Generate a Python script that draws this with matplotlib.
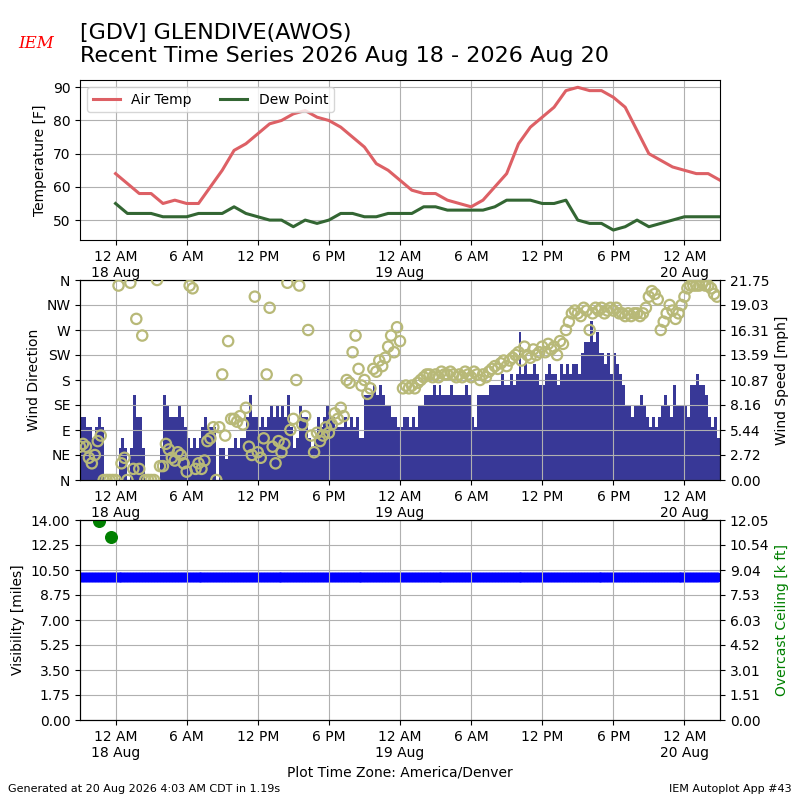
import matplotlib
matplotlib.use('Agg')
import matplotlib.pyplot as plt
import matplotlib.dates as mdates
from matplotlib.ticker import FuncFormatter
import numpy as np
import pandas as pd

# hourly temperature / dew point (F), local time
temp_start = '2026-08-18 00:00'
air_temp = [64, 61, 58, 58, 55, 56, 55, 55, 60, 65, 71, 73, 76, 79, 80, 82, 83, 81,
            80, 78, 75, 72, 67, 65, 62,
            59, 58, 58, 56, 55, 54, 56, 60, 64, 73, 78, 81, 84, 89, 90, 89, 89, 87,
            84, 77, 70, 68, 66, 65, 64, 64, 62]
dew_point = [55, 52, 52, 52, 51, 51, 51, 52, 52, 52, 54, 52, 51, 50, 50, 48, 50, 49,
             50, 52, 52, 51, 51, 52, 52,
             52, 54, 54, 53, 53, 53, 53, 54, 56, 56, 56, 55, 55, 56, 50, 49, 49, 47,
             48, 50, 48, 49, 50, 51, 51, 51, 51]

# 15 minute wind obs starting 17 Aug 21:00 (speed in knots, direction in deg)
wind_start = '2026-08-17 21:00'
wind_kt = [
    6, 6, 5, 5,  4, 5, 6, 5,  0, 0, 0, 0,  0, 3, 4, 3,  0, 3, 8, 6,  6, 3, 0, 0,
    0, 0, 0, 3,  8, 7, 6, 6,  6, 7, 6, 5,  4, 3, 4, 3,  4, 5, 6, 5,  5, 5, 0, 3,
    3, 2, 3, 3,  4, 3, 4, 4,  6, 8, 6, 6,  5, 6, 5, 6,  7, 6, 7, 6,  7, 6, 8, 5,
    3, 4, 7, 6,  6, 4, 3, 4,  6, 5, 6, 7,  6, 6, 5, 5,  5, 6, 5, 6,  5, 6, 4, 4,
    8, 8, 8, 9,  8, 9, 8, 7,  7, 6, 6, 5,
    5, 6, 6, 5,  6, 5, 7, 7,  8, 8, 8, 9,  8, 9, 8, 8,  8, 9, 8, 8,  8, 8, 9, 8,
    6, 5, 8, 8,  8, 8, 9, 9,  9, 9, 10, 9,  9, 10, 9, 10,  14, 10, 11, 10,
    10, 11, 10, 9,  9, 10, 11, 10,  10, 9, 11, 10,  11, 10, 11, 11,  10, 12, 13, 13,
    15, 13, 14, 12,  12, 11, 12, 10,  12, 11, 10, 9,  7, 7, 6, 7,  7, 8, 7, 6,
    5, 6, 5, 6,  7, 8, 7, 6,  9, 7, 7, 7,  7, 6, 9, 9,  10, 9, 9, 8,  6, 5, 6, 4,
]
wind_dir = [
    60, 65, 60, 40,  30, 45, 70, 80,  0, 0, 0, 0,  0, 350, 30, 40,  0, 355, 20, 290,
    20, 260, 0, 0,  0, 0, 360, 25,  25, 65, 55, 40,  35, 50, 45, 30,  15, 350, 345, 20,
    30, 20, 35, 70,  75, 95, 0, 95,  190, 80, 250, 110,  110, 105, 115, 100,
    130, 60, 45, 330,  50, 40, 75, 190,  310, 60, 30, 70,  50, 65, 355, 90,
    110, 180, 350, 100,  115, 270, 80, 50,  85, 70, 80, 95,  85, 100, 120, 110,
    130, 115, 180, 175,  230, 260, 200, 170,  180, 155, 165, 200,  195, 215, 205, 220,
    240, 260, 230, 275,
    250, 165, 170, 165,  170, 165, 175, 180,  185, 190, 190, 185,  190, 185, 195, 190,
    190, 195, 190, 185,  190, 185, 195, 190,  185, 195, 190, 180,  190, 185, 195, 200,
    205, 200, 210, 215,  205, 215, 220, 225,  230, 215, 240, 225,  220, 235, 225, 230,
    240, 230, 245, 235,  240, 225, 250, 245,  270, 285, 300, 305,  300, 295, 310, 305,
    270, 300, 310, 305,  310, 300, 305, 310,  305, 310, 300, 300,  295, 300, 295, 300,
    300, 295, 300, 310,  330, 340, 335, 325,  270, 285, 300, 315,  305, 290, 300, 315,
    330, 345, 350, 350,  350, 350, 355, 350,  350, 345, 335, 330,
]
gust_time = ['2026-08-19 10:00', '2026-08-19 15:40', '2026-08-19 15:55', '2026-08-19 18:00']
gust_kt = [16, 18, 18, 15]

# visibility (miles) every ob, ceiling (k ft)
vsby = [10.0] * len(wind_kt)
ceil_time = ['2026-08-17 22:35', '2026-08-17 23:35']
ceil_kft = [12.0, 11.0]

dir_labels = ['N', 'NE', 'E', 'SE', 'S', 'SW', 'W', 'NW', 'N']

temp_times = pd.date_range(temp_start, periods=len(air_temp), freq='h')
wind_times = pd.date_range(wind_start, periods=len(wind_kt), freq='15min')
wind_mph = np.array(wind_kt) * 1.15078
gust_mph = np.array(gust_kt) * 1.15078
gust_times = pd.to_datetime(gust_time)
ceil_times = pd.to_datetime(ceil_time)
xmin = wind_times[0]
xmax = wind_times[-1] + pd.Timedelta(minutes=15)


def time_fmt(x, pos=None):
    d = mdates.num2date(x)
    s = d.strftime('%-I %p')
    if d.hour == 0:
        s += '\n' + d.strftime('%-d %b')
    return s


def setup_x(ax):
    ax.set_xlim(xmin, xmax)
    ax.xaxis.set_major_locator(mdates.HourLocator(byhour=[0, 6, 12, 18]))
    ax.xaxis.set_major_formatter(FuncFormatter(time_fmt))
    ax.grid(True)


fig = plt.figure(figsize=(8, 8), dpi=100)

fig.text(0.1, 0.917, '[GDV] GLENDIVE(AWOS)\nRecent Time Series 2026 Aug 18 - 2026 Aug 20',
         fontsize=16, va='bottom', ha='left')
fig.text(0.045, 0.945, 'IEM', color='red', fontsize=12, style='italic',
         family='DejaVu Serif', ha='center', va='center')
fig.text(0.01, 0.01, 'Generated at 20 Aug 2026 4:03 AM CDT in 1.19s', fontsize=8)
fig.text(0.99, 0.01, 'IEM Autoplot App #43', fontsize=8, ha='right')

# temperature panel
ax1 = fig.add_axes([0.1, 0.7, 0.8, 0.2])
ax1.plot(temp_times, air_temp, color='#dd6065', lw=2.2, label='Air Temp')
ax1.plot(temp_times, dew_point, color='#336633', lw=2.2, label='Dew Point')
ax1.set_ylim(44, 92.2)
ax1.set_ylabel('Temperature [F]')
ax1.legend(loc='upper left', ncol=2)
setup_x(ax1)

# wind panel
ax2 = fig.add_axes([0.1, 0.4, 0.8, 0.25])
ax2b = ax2.twinx()
ax2b.bar(gust_times, gust_mph, width=1.0 / 400, color='#8080ff', align='edge', zorder=1)
ax2b.bar(wind_times, wind_mph, width=1.0 / 96, color='#383897', align='edge', zorder=2)
ax2b.set_ylim(0, 21.748)
ax2b.set_yticks(np.linspace(0, 21.748, 9))
ax2b.yaxis.set_major_formatter(FuncFormatter(lambda v, p: '%.2f' % v))
ax2b.set_ylabel('Wind Speed [mph]')
ax2.scatter(wind_times, wind_dir, s=55, facecolors='none', edgecolors='#b8b978',
            linewidths=1.6, zorder=3)
ax2.set_ylim(0, 360)
ax2.set_yticks(range(0, 361, 45))
ax2.set_yticklabels(dir_labels)
ax2.set_ylabel('Wind Direction')
ax2.set_zorder(ax2b.get_zorder() + 1)
ax2.patch.set_visible(False)
setup_x(ax2)

# visibility / ceiling panel
ax3 = fig.add_axes([0.1, 0.1, 0.8, 0.25])
ax3.scatter(wind_times, vsby, s=40, color='b', zorder=1)
ax3.set_ylim(0, 14)
ax3.set_yticks(np.linspace(0, 14, 9))
ax3.yaxis.set_major_formatter(FuncFormatter(lambda v, p: '%.2f' % v))
ax3.set_ylabel('Visibility [miles]')
ax3.set_xlabel('Plot Time Zone: America/Denver')
setup_x(ax3)
ax3b = ax3.twinx()
ax3b.scatter(ceil_times, ceil_kft, s=70, color='g')
ax3b.set_ylim(0, 12.05)
ax3b.set_yticks(np.linspace(0, 12.05, 9))
ax3b.yaxis.set_major_formatter(FuncFormatter(lambda v, p: '%.2f' % v))
ax3b.set_ylabel('Overcast Ceiling [k ft]', color='g')
ax3b.set_xlim(xmin, xmax)

fig.savefig('out.png', dpi=100)
